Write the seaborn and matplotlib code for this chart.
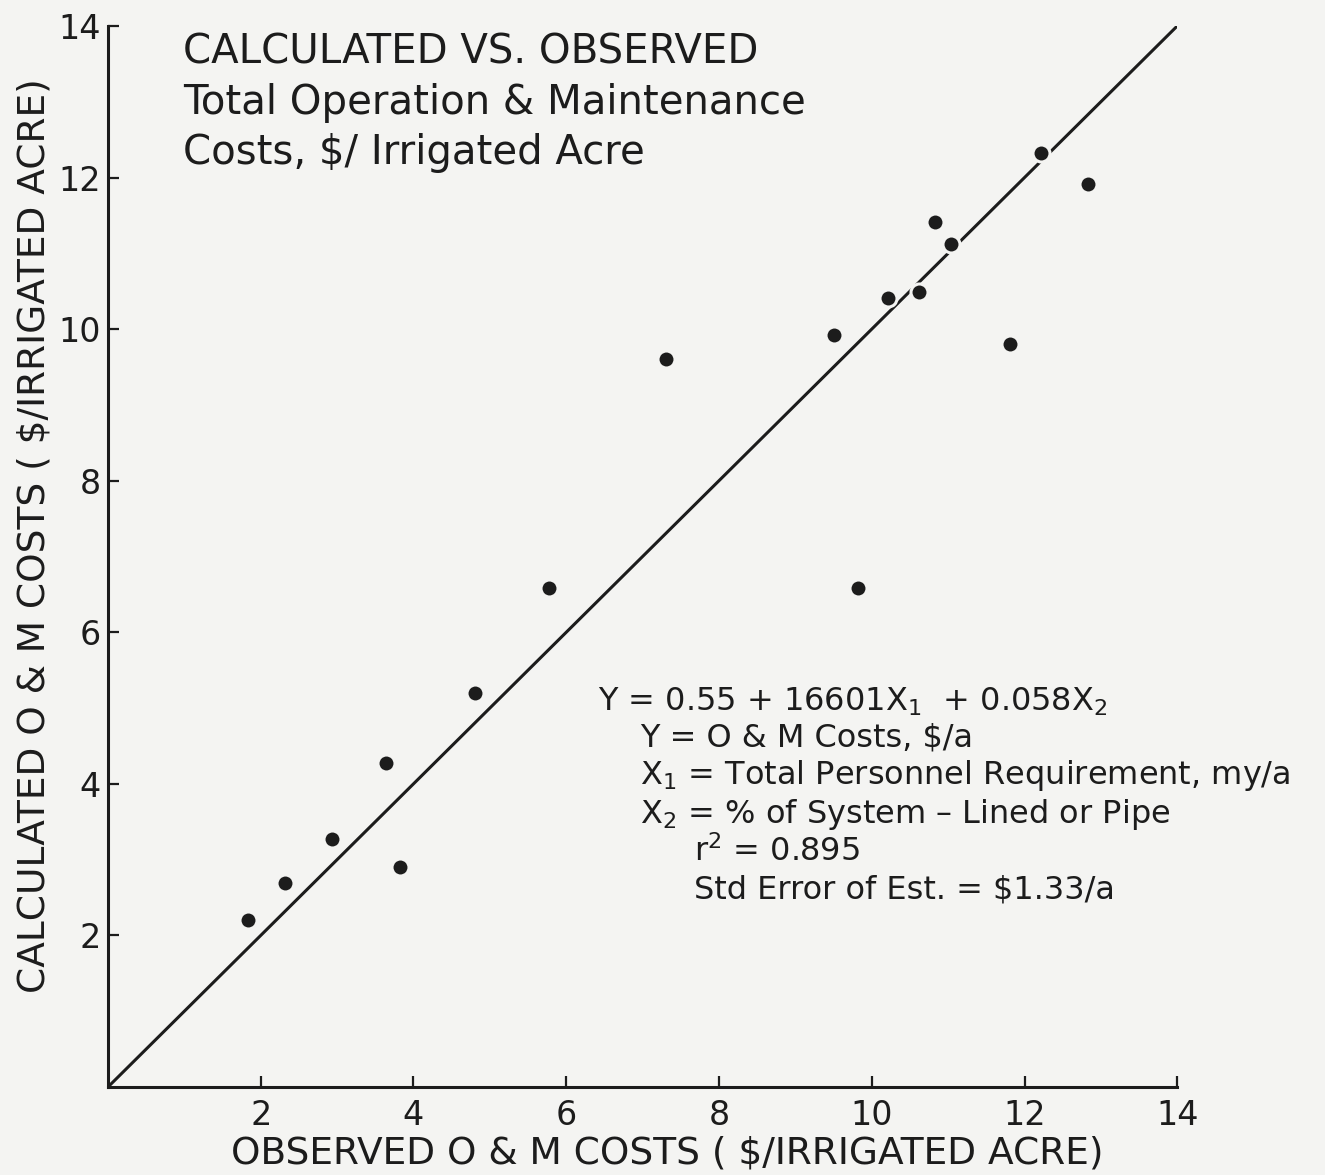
import matplotlib
matplotlib.use("Agg")
import matplotlib.pyplot as plt
import seaborn as sns
import pandas as pd

# ---- data ----
observed = [1.83, 2.32, 2.93, 3.64, 3.82, 4.81, 5.78, 7.30, 9.51, 9.82,
            10.21, 10.62, 10.83, 11.04, 11.81, 12.21, 12.83]
calculated = [2.20, 2.69, 3.27, 4.27, 2.90, 5.20, 6.59, 9.60, 9.92, 6.59,
              10.41, 10.49, 11.41, 11.12, 9.81, 12.32, 11.91]
diag_line = [0, 14]
tick_values = [2, 4, 6, 8, 10, 12, 14]
tick_labels = ["2", "4", "6", "8", "10", "12", "14"]

title_lines = ["CALCULATED VS. OBSERVED",
               "Total Operation & Maintenance",
               "Costs, \\$/ Irrigated Acre"]
eq_lines = ["Y = 0.55 + 16601X$_1$  + 0.058X$_2$",
            "Y = O & M Costs, \\$/a",
            "X$_1$ = Total Personnel Requirement, my/a",
            "X$_2$ = % of System \u2013 Lined or Pipe",
            "r$^2$ = 0.895",
            "Std Error of Est. = \\$1.33/a"]
x_label = "OBSERVED O & M COSTS ( \\$/IRRIGATED ACRE)"
y_label = "CALCULATED O & M COSTS ( \\$/IRRIGATED ACRE)"

df = pd.DataFrame({"observed": observed, "calculated": calculated})

bg = "#f4f4f2"
ink = "#1c1c1c"

sns.set_theme(style="ticks", rc={"xtick.direction": "in", "ytick.direction": "in"})
plt.rcParams["font.family"] = ["DejaVu Sans"]
plt.rcParams["mathtext.fontset"] = "dejavusans"
plt.rcParams["mathtext.default"] = "regular"

fig = plt.figure(figsize=(13.25, 11.75), dpi=100, facecolor=bg)
ax = fig.add_axes([0.0815, 0.0749, 0.807, 0.903])
ax.set_facecolor(bg)

sns.lineplot(x=diag_line, y=diag_line, ax=ax, color=ink, linewidth=2.2, zorder=2)
sns.scatterplot(data=df, x="observed", y="calculated", ax=ax, s=150, color=ink,
                edgecolor=bg, linewidth=2.2, zorder=3)

ax.set_xlim(0, 14)
ax.set_ylim(0, 14)
ax.set_xticks(tick_values)
ax.set_xticklabels(tick_labels)
ax.set_yticks(tick_values)
ax.set_yticklabels(tick_labels)
sns.despine(ax=ax)
for s in ["left", "bottom"]:
    ax.spines[s].set_linewidth(2.2)
    ax.spines[s].set_color(ink)
ax.tick_params(axis="both", which="major", direction="in", length=8, width=1.6,
               colors=ink, labelsize=24, labelcolor=ink)
ax.tick_params(axis="x", pad=9)
ax.tick_params(axis="y", pad=5)

ax.set_xlabel(x_label, fontsize=27, color=ink)
ax.set_ylabel(y_label, fontsize=27, color=ink)
ax.xaxis.set_label_coords(0.523, -0.046)
ax.yaxis.set_label_coords(-0.052, 0.52)

# title block
title_y = [13.50, 12.84, 12.18]
for t, yy in zip(title_lines, title_y):
    ax.text(0.98, yy, t, fontsize=29, color=ink, va="baseline", ha="left")

# equation block
eq_pos = [(6.42, 4.96), (6.97, 4.49), (6.97, 4.00), (6.97, 3.48), (7.67, 2.98), (7.67, 2.49)]
for t, (xx, yy) in zip(eq_lines, eq_pos):
    ax.text(xx, yy, t, fontsize=23, color=ink, va="baseline", ha="left")

fig.savefig("out.png", dpi=100, facecolor=bg)
